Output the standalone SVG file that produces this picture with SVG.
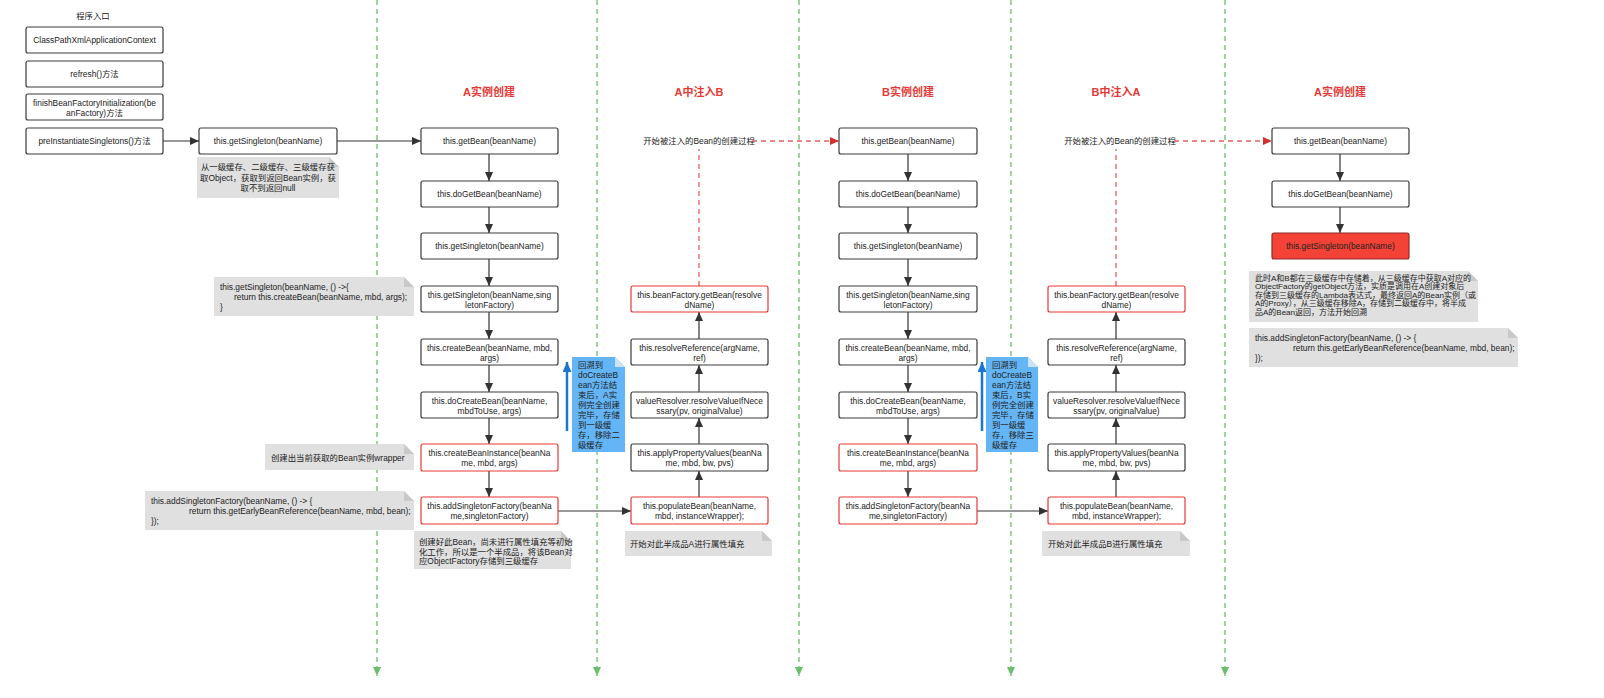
<svg xmlns="http://www.w3.org/2000/svg" width="1604" height="698" viewBox="0 0 1604 698">
<style>
text{font-family:"Liberation Sans","Noto Sans CJK SC",sans-serif;font-size:8.4px;fill:#222}
.c{text-anchor:middle}
.sm{font-size:8px}
.title{font-size:11px;font-weight:bold;fill:#e53935;text-anchor:middle}
.box{fill:#fff;stroke:#3a3a3a;stroke-width:1.2}
.rbox{fill:#fff;stroke:#e53935;stroke-width:1.2}
.fbox{fill:#f44336;stroke:#8e2a2a;stroke-width:1.2}
.note{fill:#e0e0e0}
.fold{fill:#c9c9c9}
.bnote{fill:#64b5f6}
.bfold{fill:#cde3f7}
.conn{stroke:#333;stroke-width:1.2;fill:none}
.rdash{stroke:#e06060;stroke-width:1.3;stroke-dasharray:5 4;fill:none}
.gdash{stroke:#7dc87d;stroke-width:1.5;stroke-dasharray:5 4;fill:none}
.blue{stroke:#1976d2;stroke-width:2.5;fill:none}
</style>
<defs>
<marker id="ad" markerUnits="userSpaceOnUse" markerWidth="9" markerHeight="8" refX="9" refY="4" orient="auto"><path d="M0,0 L9,4 L0,8 z" fill="#333"/></marker>
<marker id="ar" markerUnits="userSpaceOnUse" markerWidth="9" markerHeight="8" refX="9" refY="4" orient="auto"><path d="M0,0 L9,4 L0,8 z" fill="#d32f2f"/></marker>
<marker id="ag" markerUnits="userSpaceOnUse" markerWidth="9" markerHeight="8" refX="9" refY="4" orient="auto"><path d="M0,0 L9,4 L0,8 z" fill="#6cbf6c"/></marker>
<marker id="ab" markerUnits="userSpaceOnUse" markerWidth="10" markerHeight="9" refX="10" refY="4.5" orient="auto"><path d="M0,0 L10,4.5 L0,9 z" fill="#1976d2"/></marker>
</defs>

<g id="lanes">
<line class="gdash" x1="377" y1="0" x2="377" y2="676" marker-end="url(#ag)"/>
<line class="gdash" x1="597" y1="0" x2="597" y2="676" marker-end="url(#ag)"/>
<line class="gdash" x1="799" y1="0" x2="799" y2="676" marker-end="url(#ag)"/>
<line class="gdash" x1="1011" y1="0" x2="1011" y2="676" marker-end="url(#ag)"/>
<line class="gdash" x1="1225" y1="0" x2="1225" y2="676" marker-end="url(#ag)"/>
</g>

<g id="titles">
<text x="93" y="19" class="c">程序入口</text>
<text x="489" y="96" class="title">A实例创建</text>
<text x="699" y="96" class="title">A中注入B</text>
<text x="908" y="96" class="title">B实例创建</text>
<text x="1116" y="96" class="title">B中注入A</text>
<text x="1340" y="96" class="title">A实例创建</text>
<text x="699" y="144" class="c">开始被注入的Bean的创建过程</text>
<text x="1120" y="144" class="c">开始被注入的Bean的创建过程</text>
</g>

<g id="connectors">
<line class="conn" x1="163" y1="141" x2="199" y2="141" marker-end="url(#ad)"/>
<line class="conn" x1="337" y1="141" x2="421" y2="141" marker-end="url(#ad)"/>
<line class="conn" x1="489" y1="154" x2="489" y2="181" marker-end="url(#ad)"/>
<line class="conn" x1="489" y1="207" x2="489" y2="233" marker-end="url(#ad)"/>
<line class="conn" x1="489" y1="259" x2="489" y2="286" marker-end="url(#ad)"/>
<line class="conn" x1="489" y1="312" x2="489" y2="339" marker-end="url(#ad)"/>
<line class="conn" x1="489" y1="365" x2="489" y2="392" marker-end="url(#ad)"/>
<line class="conn" x1="489" y1="418" x2="489" y2="444" marker-end="url(#ad)"/>
<line class="conn" x1="489" y1="471" x2="489" y2="497" marker-end="url(#ad)"/>
<line class="conn" x1="558" y1="511" x2="631" y2="511" marker-end="url(#ad)"/>
<line class="conn" x1="699" y1="497" x2="699" y2="471" marker-end="url(#ad)"/>
<line class="conn" x1="699" y1="444" x2="699" y2="418" marker-end="url(#ad)"/>
<line class="conn" x1="699" y1="392" x2="699" y2="365" marker-end="url(#ad)"/>
<line class="conn" x1="699" y1="339" x2="699" y2="312" marker-end="url(#ad)"/>
<line class="rdash" x1="699" y1="286" x2="699" y2="149"/>
<line class="rdash" x1="752" y1="141" x2="839" y2="141" marker-end="url(#ar)"/>
<line class="conn" x1="908" y1="154" x2="908" y2="181" marker-end="url(#ad)"/>
<line class="conn" x1="908" y1="207" x2="908" y2="233" marker-end="url(#ad)"/>
<line class="conn" x1="908" y1="259" x2="908" y2="286" marker-end="url(#ad)"/>
<line class="conn" x1="908" y1="312" x2="908" y2="339" marker-end="url(#ad)"/>
<line class="conn" x1="908" y1="365" x2="908" y2="392" marker-end="url(#ad)"/>
<line class="conn" x1="908" y1="418" x2="908" y2="444" marker-end="url(#ad)"/>
<line class="conn" x1="908" y1="471" x2="908" y2="497" marker-end="url(#ad)"/>
<line class="conn" x1="977" y1="511" x2="1048" y2="511" marker-end="url(#ad)"/>
<line class="conn" x1="1116" y1="497" x2="1116" y2="471" marker-end="url(#ad)"/>
<line class="conn" x1="1116" y1="444" x2="1116" y2="418" marker-end="url(#ad)"/>
<line class="conn" x1="1116" y1="392" x2="1116" y2="365" marker-end="url(#ad)"/>
<line class="conn" x1="1116" y1="339" x2="1116" y2="312" marker-end="url(#ad)"/>
<line class="rdash" x1="1116" y1="286" x2="1116" y2="149"/>
<line class="rdash" x1="1174" y1="141" x2="1272" y2="141" marker-end="url(#ar)"/>
<line class="conn" x1="1340" y1="154" x2="1340" y2="181" marker-end="url(#ad)"/>
<line class="conn" x1="1340" y1="207" x2="1340" y2="233" marker-end="url(#ad)"/>
<line class="blue" x1="567" y1="431" x2="567" y2="362" marker-end="url(#ab)"/>
<line class="blue" x1="982" y1="431" x2="982" y2="362" marker-end="url(#ab)"/>
</g>

<!-- entry column -->
<g id="n_cpxac"><rect class="box" x="26" y="27" width="137" height="26" rx="2"/><text x="94.5" y="43" class="c">ClassPathXmlApplicationContext</text></g>
<g id="n_refresh"><rect class="box" x="26" y="61" width="137" height="26" rx="2"/><text x="94.5" y="77" class="c">refresh()方法</text></g>
<g id="n_finish"><rect class="box" x="26" y="94" width="137" height="26" rx="2"/><text x="94.5" y="106" class="c">finishBeanFactoryInitialization(be</text><text x="94.5" y="115.5" class="c">anFactory)方法</text></g>
<g id="n_preinst"><rect class="box" x="26" y="128" width="137" height="26" rx="2"/><text x="94.5" y="144" class="c">preInstantiateSingletons()方法</text></g>
<g id="n_getsingleton0"><rect class="box" x="199" y="128" width="138" height="26" rx="2"/><text x="268" y="144" class="c">this.getSingleton(beanName)</text></g>

<!-- A creation -->
<g id="a_getbean"><rect class="box" x="421" y="128" width="137" height="26" rx="2"/><text x="489.5" y="144" class="c">this.getBean(beanName)</text></g>
<g id="a_dogetbean"><rect class="box" x="421" y="181" width="137" height="26" rx="2"/><text x="489.5" y="197" class="c">this.doGetBean(beanName)</text></g>
<g id="a_getsingleton"><rect class="box" x="421" y="233" width="137" height="26" rx="2"/><text x="489.5" y="249" class="c">this.getSingleton(beanName)</text></g>
<g id="a_getsingleton2"><rect class="box" x="421" y="286" width="137" height="26" rx="2"/><text x="489.5" y="298" class="c">this.getSingleton(beanName,sing</text><text x="489.5" y="307.5" class="c">letonFactory)</text></g>
<g id="a_createbean"><rect class="box" x="421" y="339" width="137" height="26" rx="2"/><text x="489.5" y="351" class="c">this.createBean(beanName, mbd,</text><text x="489.5" y="360.5" class="c">args)</text></g>
<g id="a_docreatebean"><rect class="box" x="421" y="392" width="137" height="26" rx="2"/><text x="489.5" y="404" class="c">this.doCreateBean(beanName,</text><text x="489.5" y="413.5" class="c">mbdToUse, args)</text></g>
<g id="a_createinstance"><rect class="rbox" x="421" y="444" width="137" height="27" rx="2"/><text x="489.5" y="456" class="c">this.createBeanInstance(beanNa</text><text x="489.5" y="465.5" class="c">me, mbd, args)</text></g>
<g id="a_addfactory"><rect class="rbox" x="421" y="497" width="137" height="27" rx="2"/><text x="489.5" y="509" class="c">this.addSingletonFactory(beanNa</text><text x="489.5" y="518.5" class="c">me,singletonFactory)</text></g>

<!-- A inject B -->
<g id="ab_factorygetbean"><rect class="rbox" x="631" y="286" width="137" height="26" rx="2"/><text x="699.5" y="298" class="c">this.beanFactory.getBean(resolve</text><text x="699.5" y="307.5" class="c">dName)</text></g>
<g id="ab_resolveref"><rect class="box" x="631" y="339" width="137" height="26" rx="2"/><text x="699.5" y="351" class="c">this.resolveReference(argName,</text><text x="699.5" y="360.5" class="c">ref)</text></g>
<g id="ab_valueresolver"><rect class="box" x="631" y="392" width="137" height="26" rx="2"/><text x="699.5" y="404" class="c">valueResolver.resolveValueIfNece</text><text x="699.5" y="413.5" class="c">ssary(pv, originalValue)</text></g>
<g id="ab_applyprops"><rect class="box" x="631" y="444" width="137" height="27" rx="2"/><text x="699.5" y="456" class="c">this.applyPropertyValues(beanNa</text><text x="699.5" y="465.5" class="c">me, mbd, bw, pvs)</text></g>
<g id="ab_populate"><rect class="rbox" x="631" y="497" width="137" height="27" rx="2"/><text x="699.5" y="509" class="c">this.populateBean(beanName,</text><text x="699.5" y="518.5" class="c">mbd, instanceWrapper);</text></g>

<!-- B creation -->
<g id="b_getbean"><rect class="box" x="839" y="128" width="138" height="26" rx="2"/><text x="908" y="144" class="c">this.getBean(beanName)</text></g>
<g id="b_dogetbean"><rect class="box" x="839" y="181" width="138" height="26" rx="2"/><text x="908" y="197" class="c">this.doGetBean(beanName)</text></g>
<g id="b_getsingleton"><rect class="box" x="839" y="233" width="138" height="26" rx="2"/><text x="908" y="249" class="c">this.getSingleton(beanName)</text></g>
<g id="b_getsingleton2"><rect class="box" x="839" y="286" width="138" height="26" rx="2"/><text x="908" y="298" class="c">this.getSingleton(beanName,sing</text><text x="908" y="307.5" class="c">letonFactory)</text></g>
<g id="b_createbean"><rect class="box" x="839" y="339" width="138" height="26" rx="2"/><text x="908" y="351" class="c">this.createBean(beanName, mbd,</text><text x="908" y="360.5" class="c">args)</text></g>
<g id="b_docreatebean"><rect class="box" x="839" y="392" width="138" height="26" rx="2"/><text x="908" y="404" class="c">this.doCreateBean(beanName,</text><text x="908" y="413.5" class="c">mbdToUse, args)</text></g>
<g id="b_createinstance"><rect class="rbox" x="839" y="444" width="138" height="27" rx="2"/><text x="908" y="456" class="c">this.createBeanInstance(beanNa</text><text x="908" y="465.5" class="c">me, mbd, args)</text></g>
<g id="b_addfactory"><rect class="rbox" x="839" y="497" width="138" height="27" rx="2"/><text x="908" y="509" class="c">this.addSingletonFactory(beanNa</text><text x="908" y="518.5" class="c">me,singletonFactory)</text></g>

<!-- B inject A -->
<g id="ba_factorygetbean"><rect class="rbox" x="1048" y="286" width="137" height="26" rx="2"/><text x="1116.5" y="298" class="c">this.beanFactory.getBean(resolve</text><text x="1116.5" y="307.5" class="c">dName)</text></g>
<g id="ba_resolveref"><rect class="box" x="1048" y="339" width="137" height="26" rx="2"/><text x="1116.5" y="351" class="c">this.resolveReference(argName,</text><text x="1116.5" y="360.5" class="c">ref)</text></g>
<g id="ba_valueresolver"><rect class="box" x="1048" y="392" width="137" height="26" rx="2"/><text x="1116.5" y="404" class="c">valueResolver.resolveValueIfNece</text><text x="1116.5" y="413.5" class="c">ssary(pv, originalValue)</text></g>
<g id="ba_applyprops"><rect class="box" x="1048" y="444" width="137" height="27" rx="2"/><text x="1116.5" y="456" class="c">this.applyPropertyValues(beanNa</text><text x="1116.5" y="465.5" class="c">me, mbd, bw, pvs)</text></g>
<g id="ba_populate"><rect class="rbox" x="1048" y="497" width="137" height="27" rx="2"/><text x="1116.5" y="509" class="c">this.populateBean(beanName,</text><text x="1116.5" y="518.5" class="c">mbd, instanceWrapper);</text></g>

<!-- A again -->
<g id="a2_getbean"><rect class="box" x="1272" y="128" width="137" height="26" rx="2"/><text x="1340.5" y="144" class="c">this.getBean(beanName)</text></g>
<g id="a2_dogetbean"><rect class="box" x="1272" y="181" width="137" height="26" rx="2"/><text x="1340.5" y="197" class="c">this.doGetBean(beanName)</text></g>
<g id="a2_getsingleton"><rect class="fbox" x="1272" y="233" width="137" height="26" rx="2"/><text x="1340.5" y="249" class="c">this.getSingleton(beanName)</text></g>

<!-- notes -->
<g id="note_getsingleton"><path class="note" d="M197,157 H329 L339,167 V198 H197 Z"/><path class="fold" d="M329,157 L339,167 H329 Z"/>
<text x="268" y="170" class="c">从一级缓存、二级缓存、三级缓存获</text><text x="268" y="180.5" class="c">取Object，获取到返回Bean实例，获</text><text x="268" y="190.5" class="c">取不到返回null</text></g>

<g id="note_lambda"><path class="note" d="M214,277 H404 L414,287 V316 H214 Z"/><path class="fold" d="M404,277 L414,287 H404 Z"/>
<text x="220" y="290">this.getSingleton(beanName, () -&gt;{</text><text x="234" y="300">return this.createBean(beanName, mbd, args);</text><text x="220" y="309.5">}</text></g>

<g id="note_wrapper"><path class="note" d="M265,444 H404 L414,454 V470 H265 Z"/><path class="fold" d="M404,444 L414,454 H404 Z"/>
<text x="271" y="461">创建出当前获取的Bean实例wrapper</text></g>

<g id="note_addfactory"><path class="note" d="M145,491 H404 L414,501 V530 H145 Z"/><path class="fold" d="M404,491 L414,501 H404 Z"/>
<text x="151" y="504">this.addSingletonFactory(beanName, () -&gt; {</text><text x="189" y="514">return this.getEarlyBeanReference(beanName, mbd, bean);</text><text x="151" y="524">});</text></g>

<g id="note_halfbean"><path class="note" d="M414,531 H561 L571,541 V569 H414 Z"/><path class="fold" d="M561,531 L571,541 H561 Z"/>
<text x="419" y="545">创建好此Bean，尚未进行属性填充等初始</text><text x="419" y="554.5">化工作，所以是一个半成品，将该Bean对</text><text x="419" y="564">应ObjectFactory存储到三级缓存</text></g>

<g id="note_fillA"><path class="note" d="M625,531 H762 L772,541 V556 H625 Z"/><path class="fold" d="M762,531 L772,541 H762 Z"/>
<text x="630" y="547">开始对此半成品A进行属性填充</text></g>

<g id="note_fillB"><path class="note" d="M1042,531 H1180 L1190,541 V556 H1042 Z"/><path class="fold" d="M1180,531 L1190,541 H1180 Z"/>
<text x="1048" y="547">开始对此半成品B进行属性填充</text></g>

<g id="note_backA"><path class="bnote" d="M572,357 H615 L625,367 V452 H572 Z"/><path class="bfold" d="M615,357 L625,367 H615 Z"/>
<text x="578" y="368">回溯到</text><text x="578" y="378">doCreateB</text><text x="578" y="388">ean方法结</text><text x="578" y="398">束后，A实</text><text x="578" y="408">例完全创建</text><text x="578" y="418">完毕，存储</text><text x="578" y="428">到一级缓</text><text x="578" y="438">存，移除二</text><text x="578" y="448">级缓存</text></g>

<g id="note_backB"><path class="bnote" d="M986,357 H1028 L1038,367 V452 H986 Z"/><path class="bfold" d="M1028,357 L1038,367 H1028 Z"/>
<text x="992" y="368">回溯到</text><text x="992" y="378">doCreateB</text><text x="992" y="388">ean方法结</text><text x="992" y="398">束后，B实</text><text x="992" y="408">例完全创建</text><text x="992" y="418">完毕，存储</text><text x="992" y="428">到一级缓</text><text x="992" y="438">存，移除三</text><text x="992" y="448">级缓存</text></g>

<g id="note_final"><path class="note" d="M1249,271 H1468 L1478,281 V322 H1249 Z"/><path class="fold" d="M1468,271 L1478,281 H1468 Z"/>
<text x="1255" y="280.5" class="sm">此时A和B都在三级缓存中存储着，从三级缓存中获取A对应的</text><text x="1255" y="289" class="sm">ObjectFactory的getObject方法，实质是调用在A创建对象后</text><text x="1255" y="297.5" class="sm">存储到三级缓存的Lambda表达式，最终返回A的Bean实例（或</text><text x="1255" y="306" class="sm">A的Proxy），从三级缓存移除A，存储到二级缓存中，将半成</text><text x="1255" y="314.5" class="sm">品A的Bean返回，方法开始回溯</text></g>

<g id="note_final_code"><path class="note" d="M1249,328 H1508 L1518,338 V367 H1249 Z"/><path class="fold" d="M1508,328 L1518,338 H1508 Z"/>
<text x="1255" y="341">this.addSingletonFactory(beanName, () -&gt; {</text><text x="1293" y="351">return this.getEarlyBeanReference(beanName, mbd, bean);</text><text x="1255" y="360.5">});</text></g>
</svg>
